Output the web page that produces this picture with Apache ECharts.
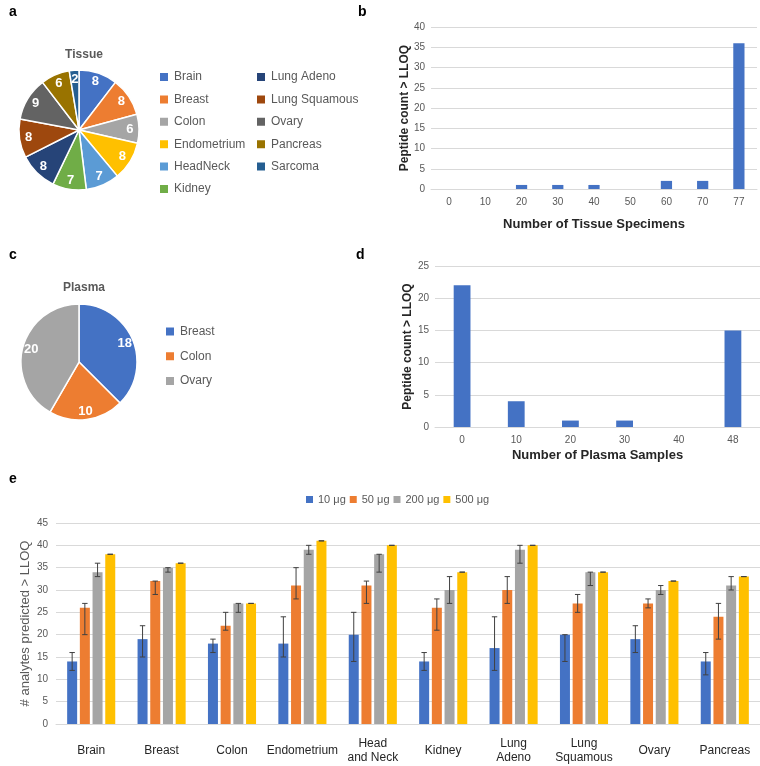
<!DOCTYPE html>
<html><head><meta charset="utf-8">
<script src="https://cdn.jsdelivr.net/npm/echarts@6/dist/echarts.min.js"></script>
<style>html,body{margin:0;padding:0;background:#fff}#c{width:760px;height:766px}</style>
</head><body><div id="c"></div>
<script>
// ---------- data ----------
const tissueNames = ['Brain','Breast','Colon','Endometrium','HeadNeck','Kidney','Lung Adeno','Lung Squamous','Ovary','Pancreas','Sarcoma'];
const tissueCounts = [8,8,6,8,7,7,8,8,9,6,2];
const plasmaNames = ['Breast','Colon','Ovary'];
const plasmaCounts = [18,10,20];
const tissueSpecimenCats = ['0','10','20','30','40','50','60','70','77'];
const tissuePeptideCounts = [0,0,1,1,1,0,2,2,36];
const plasmaSampleCats = ['0','10','20','30','40','48'];
const plasmaPeptideCounts = [22,4,1,1,0,15];
const cancerTypes = ['Brain','Breast','Colon','Endometrium','Head\nand Neck','Kidney','Lung\nAdeno','Lung\nSquamous','Ovary','Pancreas'];
const doseNames = ['10 μg','50 μg','200 μg','500 μg'];
const analytes10  = [14,19,18,18,20,14,17,20,19,14];
const analytes50  = [26,32,22,31,31,26,30,27,27,24];
const analytes200 = [34,35,27,39,38,30,39,34,30,31];
const analytes500 = [38,36,27,41,40,34,40,34,32,33];
const errLow10  = [12,15,16,15,14,12,12,14,16,11];
const errHigh10 = [16,22,19,24,25,16,24,20,22,16];
const errLow50  = [20,29,21,28,27,21,27,25,26,19];
const errHigh50 = [27,32,25,35,32,28,33,29,28,27];
const errLow200  = [33,34,25,38,34,27,36,31,29,30];
const errHigh200 = [36,35,27,40,38,33,40,34,31,33];
const errLow500  = [38,36,27,41,40,34,40,34,32,33];
const errHigh500 = [38,36,27,41,40,34,40,34,32,33];

// ---------- style ----------
const FONT = '"Liberation Sans", Arial, sans-serif';
const tissuePalette = ['#4472C4','#ED7D31','#A5A5A5','#FFC000','#5B9BD5','#70AD47','#264478','#9E480E','#636363','#997300','#255E91'];
const plasmaPalette = ['#4472C4','#ED7D31','#A5A5A5'];
const dosePalette = ['#4472C4','#ED7D31','#A5A5A5','#FFC000'];
const GRID_C = '#d9d9d9', LAB_C = '#595959';
const BAR_W = 10, BAR_GAP = 0.27, BAR_STEP = BAR_W * (1 + BAR_GAP);

const chart = echarts.init(document.getElementById('c'), null, {renderer:'canvas'});

function pieData(names, vals, pal){ return names.map((n,i)=>({name:n, value:vals[i], itemStyle:{color:pal[i]}})); }
function legendData(names, pal){ return names.map((n,i)=>({name:n, itemStyle:{color:pal[i]}})); }

function pieSeries(names, vals, pal, center, r){
  return [
    {type:'pie', center:center, radius:[0,r], silent:true, animation:false,
     data:pieData(names, vals, pal), label:{show:false}, labelLine:{show:false},
     itemStyle:{borderColor:'#fff', borderWidth:1.5}},
    {type:'pie', center:center, radius:[r*0.6, r], silent:true, animation:false,
     data:names.map((n,i)=>({name:n, value:vals[i], itemStyle:{color:'rgba(0,0,0,0)'}})),
     label:{show:true, position:'inside', color:'#fff', fontWeight:'bold', fontSize:13, fontFamily:FONT, formatter:'{c}'},
     labelLine:{show:false}, itemStyle:{borderWidth:0}}
  ];
}

const commonLegend = {orient:'vertical', itemWidth:10, itemHeight:10, icon:'rect',
  textStyle:{fontSize:12, color:LAB_C, fontFamily:FONT, lineHeight:14}, selectedMode:false};

function valueAxis(idx, max, name, gap, nameStyle, labelSize, margin){
  return {type:'value', gridIndex:idx, min:0, max:max, interval:5,
    axisLabel:{fontSize:labelSize, color:LAB_C, fontFamily:FONT, margin:margin},
    splitLine:{lineStyle:{color:GRID_C, width:1}}, axisLine:{show:false}, axisTick:{show:false},
    name:name, nameLocation:'middle', nameGap:gap, nameRotate:90, nameTextStyle:nameStyle,
    nameMoveOverlap:false};
}
function catAxis(idx, cats, name, gap, labelStyle){
  return {type:'category', gridIndex:idx, data:cats,
    axisLine:{lineStyle:{color:GRID_C, width:1}}, axisTick:{show:false},
    axisLabel:labelStyle, name:name, nameLocation:'middle', nameGap:gap,
    nameTextStyle:{fontSize:13, fontWeight:'bold', color:'#262626', fontFamily:FONT}};
}

const titleStyle = {fontSize:12, fontWeight:'bold', color:LAB_C, fontFamily:FONT};
const yTitleBold = {fontSize:12, fontWeight:'bold', color:'#262626', fontFamily:FONT};
const letterStyle = {fontSize:14, fontWeight:'bold', color:'#000', fontFamily:FONT};

function errSeries(i, lo, hi){
  return {type:'custom', name:'err'+i, xAxisIndex:2, yAxisIndex:2, z:10, silent:true, animation:false,
    data: lo.map((l,k)=>[k, l, hi[k]]),
    encode:{x:0, y:[1,2]},
    renderItem:(params, api)=>{
      const k = api.value(0);
      const pLo = api.coord([k, api.value(1)]);
      const pHi = api.coord([k, api.value(2)]);
      const x = pLo[0] + (i - 1.5) * BAR_STEP;
      const cap = 2.7;
      const st = {stroke:'#404040', lineWidth:1};
      return {type:'group', children:[
        {type:'line', shape:{x1:x, y1:pLo[1], x2:x, y2:pHi[1]}, style:st},
        {type:'line', shape:{x1:x-cap, y1:pLo[1], x2:x+cap, y2:pLo[1]}, style:st},
        {type:'line', shape:{x1:x-cap, y1:pHi[1], x2:x+cap, y2:pHi[1]}, style:st}
      ]};
    }};
}

const doseValues = [analytes10, analytes50, analytes200, analytes500];
const doseLow = [errLow10, errLow50, errLow200, errLow500];
const doseHigh = [errHigh10, errHigh50, errHigh200, errHigh500];

const option = {
  animation:false,
  backgroundColor:'#fff',
  textStyle:{fontFamily:FONT},
  title:[
    {text:'a', left:4, top:0, textStyle:letterStyle},
    {text:'b', left:353, top:0, textStyle:letterStyle},
    {text:'c', left:4, top:243, textStyle:letterStyle},
    {text:'d', left:351, top:243, textStyle:letterStyle},
    {text:'e', left:4, top:467, textStyle:letterStyle},
    {text:'Tissue', left:79, top:44, textAlign:'center', textStyle:titleStyle},
    {text:'Plasma', left:79, top:277, textAlign:'center', textStyle:titleStyle}
  ],
  legend:[
    Object.assign({}, commonLegend, {left:153, top:65, itemGap:8.4, data:legendData(tissueNames.slice(0,6), tissuePalette.slice(0,6))}),
    Object.assign({}, commonLegend, {left:250, top:65, itemGap:8.4, data:legendData(tissueNames.slice(6), tissuePalette.slice(6))}),
    Object.assign({}, commonLegend, {left:159, top:319.5, itemGap:10.7, data:legendData(plasmaNames, plasmaPalette)}),
    {orient:'horizontal', left:301, top:489, itemWidth:7, itemHeight:7, itemGap:4, icon:'rect', selectedMode:false,
     textStyle:{fontSize:11, color:LAB_C, fontFamily:FONT},
     data:legendData(doseNames, dosePalette)}
  ],
  grid:[
    {left:431, right:3, top:27, height:162},
    {left:435, right:0, top:266, height:161},
    {left:56, right:0, top:523, height:201}
  ],
  xAxis:[
    catAxis(0, tissueSpecimenCats, 'Number of Tissue Specimens', 29, {fontSize:10, color:LAB_C, fontFamily:FONT, margin:8}),
    catAxis(1, plasmaSampleCats, 'Number of Plasma Samples', 22, {fontSize:10, color:LAB_C, fontFamily:FONT, margin:8}),
    catAxis(2, cancerTypes, '', 0, {fontSize:12, color:'#262626', fontFamily:FONT, margin:27, verticalAlign:'middle', lineHeight:14, interval:0})
  ],
  yAxis:[
    valueAxis(0, 40, 'Peptide count > LLOQ', 20, yTitleBold, 10, 6),
    valueAxis(1, 25, 'Peptide count > LLOQ', 21, yTitleBold, 10, 6),
    valueAxis(2, 45, '# analytes predicted > LLOQ', 24, {fontSize:13, color:LAB_C, fontFamily:FONT}, 10, 8)
  ],
  series:[
    ...pieSeries(tissueNames, tissueCounts, tissuePalette, [79,130], 60),
    ...pieSeries(plasmaNames, plasmaCounts, plasmaPalette, [79,362], 58),
    {type:'bar', name:'tissuePeptides', xAxisIndex:0, yAxisIndex:0, data:tissuePeptideCounts, barWidth:'31%',
     itemStyle:{color:'#4472C4'}, silent:true},
    {type:'bar', name:'plasmaPeptides', xAxisIndex:1, yAxisIndex:1, data:plasmaPeptideCounts, barWidth:'31%',
     itemStyle:{color:'#4472C4'}, silent:true},
    ...doseNames.map((n,i)=>({type:'bar', name:n, xAxisIndex:2, yAxisIndex:2, data:doseValues[i],
      barWidth:BAR_W, barGap:(BAR_GAP*100)+'%', itemStyle:{color:dosePalette[i]}, silent:true})),
    ...doseNames.map((n,i)=>errSeries(i, doseLow[i], doseHigh[i]))
  ]
};
chart.setOption(option);
</script>
</body></html>
